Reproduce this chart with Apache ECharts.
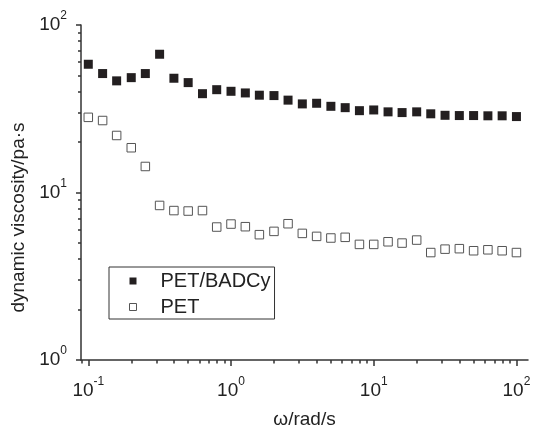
<!DOCTYPE html>
<html>
<head>
<meta charset="utf-8">
<script src="https://cdn.jsdelivr.net/npm/echarts@6/dist/echarts.min.js"></script>
<style>html,body{margin:0;padding:0;background:#fff}#c{width:533px;height:427px}</style>
</head>
<body>
<div id="c"></div>
<script>
// angular frequency, rad/s
const omega = [0.1, 0.126, 0.158, 0.2, 0.251, 0.316, 0.398, 0.501, 0.631, 0.794,
  1, 1.26, 1.58, 2, 2.51, 3.16, 3.98, 5.01, 6.31, 7.94,
  10, 12.6, 15.8, 20, 25.1, 31.6, 39.8, 50.1, 63.1, 79.4, 100];
// dynamic viscosity, Pa·s
const petBadcy = [58.3, 51.3, 46.4, 48.5, 51.3, 66.9, 48.1, 45.3, 38.9, 41.1,
  40.2, 39.3, 38.1, 37.9, 35.6, 33.8, 34.1, 32.7, 32.1, 30.8,
  31.1, 30.3, 30.0, 30.3, 29.5, 28.9, 28.8, 28.8, 28.7, 28.7, 28.4];
const pet = [28.1, 26.9, 21.9, 18.5, 14.3, 8.37, 7.8, 7.75, 7.8, 6.22,
  6.48, 6.25, 5.60, 5.86, 6.51, 5.70, 5.47, 5.35, 5.40, 4.90,
  4.90, 5.08, 4.99, 5.20, 4.38, 4.59, 4.62, 4.49, 4.55, 4.49, 4.38];
const seriesNames = ['PET/BADCy', 'PET'];
const xMajorTicks = [0.1, 1, 10, 100];
const yMajorTicks = [1, 10, 100];
const xMinorTicks = [0.09, 0.2, 0.3, 0.4, 0.5, 0.6, 0.7, 0.8, 0.9, 2, 3, 4, 5, 6, 7, 8, 9, 20, 30, 40, 50, 60, 70, 80, 90];
const yMinorTicks = [2, 3, 4, 5, 6, 7, 8, 9, 20, 30, 40, 50, 60, 70, 80, 90];
const xRange = [0.0889, 120.5];
const yRange = [1, 100];

const FONT = 'Liberation Sans, Arial, Helvetica, sans-serif';
const TXT = '#222';
const AX = '#333';

const powLabel = v => '{b|10}{s|' + Math.round(Math.log10(v)) + '}';
const rich = {
  b: { fontSize: 19, lineHeight: 30, fontFamily: FONT, color: TXT },
  s: { fontSize: 12, lineHeight: 12, verticalAlign: 'top', fontFamily: FONT, color: TXT }
};

const chart = echarts.init(document.getElementById('c'), null, { renderer: 'canvas' });
chart.setOption({
  animation: false,
  backgroundColor: '#fff',
  grid: { left: 81, right: 5, top: 25, bottom: 67, containLabel: false, outerBoundsMode: 'none' },
  legend: {
    orient: 'vertical', left: 109, top: 267,
    itemWidth: 7, itemHeight: 7, itemGap: 6,
    padding: [4, 4, 2, 20],
    borderColor: AX, borderWidth: 1,
    textStyle: { fontSize: 20, lineHeight: 20, color: TXT, fontFamily: FONT, padding: [0, 0, 0, 19] },
    data: [
      { name: seriesNames[0], icon: 'rect', itemStyle: { color: '#231f20', borderWidth: 0 } },
      { name: seriesNames[1], icon: 'rect', itemStyle: { color: '#fff', borderColor: '#555', borderWidth: 1 } }
    ]
  },
  xAxis: [{
    type: 'log', logBase: 10, min: xRange[0], max: xRange[1], position: 'bottom',
    name: 'ω/rad/s', nameLocation: 'middle', nameGap: 50,
    nameTextStyle: { fontSize: 19, color: TXT, fontFamily: FONT },
    axisLine: { show: true, lineStyle: { color: AX, width: 1.5 } },
    axisTick: { show: true, inside: false, length: 6, customValues: xMajorTicks, lineStyle: { color: AX, width: 1.5 } },
    axisLabel: { show: true, margin: 16, customValues: xMajorTicks, formatter: powLabel, rich: rich },
    splitLine: { show: false }, minorTick: { show: false }
  }, {
    type: 'log', logBase: 10, min: xRange[0], max: xRange[1], position: 'bottom',
    axisLine: { show: false },
    axisTick: { show: true, inside: false, length: 3.5, customValues: xMinorTicks, lineStyle: { color: AX, width: 1.5 } },
    axisLabel: { show: false }, splitLine: { show: false }
  }],
  yAxis: [{
    type: 'log', logBase: 10, min: yRange[0], max: yRange[1], position: 'left',
    name: '{t|dynamic viscosity/pa·s}', nameLocation: 'middle', nameGap: 51,
    nameTextStyle: { fontSize: 19, color: TXT, fontFamily: FONT,
      rich: { t: { fontSize: 19, color: TXT, fontFamily: FONT, padding: [0, 50, 0, 0] } } },
    axisLine: { show: true, lineStyle: { color: AX, width: 1.5 } },
    axisTick: { show: true, inside: false, length: 5, customValues: yMajorTicks, lineStyle: { color: AX, width: 1.5 } },
    axisLabel: { show: true, margin: 14, customValues: yMajorTicks, formatter: powLabel, rich: rich },
    splitLine: { show: false }, minorTick: { show: false }
  }, {
    type: 'log', logBase: 10, min: yRange[0], max: yRange[1], position: 'left',
    axisLine: { show: false },
    axisTick: { show: true, inside: false, length: 3, customValues: yMinorTicks, lineStyle: { color: AX, width: 1.5 } },
    axisLabel: { show: false }, splitLine: { show: false }
  }],
  series: [{
    name: seriesNames[0], type: 'scatter', xAxisIndex: 0, yAxisIndex: 0,
    symbol: 'rect', symbolSize: 9,
    itemStyle: { color: '#231f20', opacity: 1 },
    data: omega.map((x, i) => [x, petBadcy[i]])
  }, {
    name: seriesNames[1], type: 'scatter', xAxisIndex: 0, yAxisIndex: 0,
    symbol: 'rect', symbolSize: 8.5,
    itemStyle: { color: '#fff', borderColor: '#555', borderWidth: 1, opacity: 1 },
    data: omega.map((x, i) => [x, pet[i]])
  }]
});
</script>
</body>
</html>
